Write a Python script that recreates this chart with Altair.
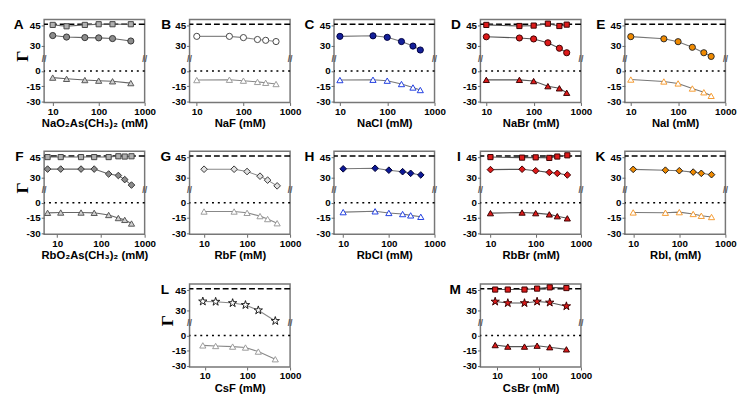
import altair as alt
import pandas as pd

STAR = ("M0,-1L0.2245,-0.309L0.951,-0.309L0.363,0.118L0.588,0.809L0,0.382"
        "L-0.588,0.809L-0.363,0.118L-0.951,-0.309L-0.2245,-0.309Z")

# ---------------- data ----------------
A_x = [10, 20, 50, 100, 200, 500]
A_top = [37.7, 36.6, 36.2, 36.0, 35.5, 33.7]
A_bot = [-6.5, -7.7, -8.9, -9.5, -10.1, -11.9]
A_sq = [45.5, 44.5, 45.5, 46.0, 46.0, 46.0]

B_x = [10, 50, 100, 200, 300, 500]
B_top = [37.1, 37.1, 36.2, 34.8, 34.2, 33.3]
B_bot = [-8.9, -8.6, -9.5, -10.7, -11.6, -12.8]

C_x = [10, 50, 100, 200, 350, 500]
C_top = [37.1, 37.5, 36.4, 33.3, 30.0, 27.1]
C_bot = [-8.9, -8.6, -9.5, -12.8, -16.2, -18.7]

D_x = [10, 50, 100, 200, 350, 500]
D_top = [36.8, 35.9, 35.2, 32.4, 28.4, 25.1]
D_bot = [-8.7, -8.7, -9.9, -14.9, -17.0, -21.4]
D_sq = [45.5, 44.7, 45.0, 46.4, 44.7, 45.7]
D_err = [1.5, 1.5, 1.5, 1.5, 1.5, 1.5]

E_x = [10, 50, 100, 200, 350, 500]
E_top = [36.9, 35.3, 33.2, 29.1, 25.1, 22.4]
E_bot = [-8.4, -10.3, -12.2, -17.2, -20.9, -24.4]

F_x = [6, 12, 35, 70, 150, 250, 350, 500]
F_top = [36.4, 36.4, 36.4, 36.4, 32.8, 31.7, 28.7, 24.7]
F_bot = [-9.9, -9.6, -9.6, -9.9, -12.0, -15.0, -16.8, -20.4]
F_sq = [45.2, 45.2, 45.2, 45.2, 45.2, 45.8, 45.6, 45.8]
F_err = [0.8, 0.8, 0.8, 0.8, 0.8, 1.5, 0.8, 0.8]

G_x = [10, 50, 100, 200, 300, 500]
G_top = [36.3, 36.3, 34.6, 31.2, 28.3, 24.1]
G_bot = [-8.6, -8.6, -9.9, -13.1, -16.0, -20.1]

H_x = [10, 50, 100, 200, 300, 500]
H_top = [36.6, 37.0, 35.6, 34.5, 33.3, 32.1]
H_bot = [-9.2, -8.4, -10.0, -11.1, -12.4, -13.8]

I_x = [10, 50, 100, 200, 300, 500]
I_top = [36.0, 36.3, 35.2, 34.0, 33.3, 32.1]
I_bot = [-10.2, -9.6, -10.2, -11.4, -13.2, -15.3]
I_sq = [45.2, 44.8, 45.0, 44.6, 45.6, 46.5]
I_err = [1.5, 1.5, 1.5, 1.5, 1.5, 1.5]

K_x = [10, 50, 100, 200, 300, 500]
K_top = [36.2, 35.6, 35.2, 34.2, 33.3, 32.3]
K_bot = [-9.5, -9.8, -9.2, -11.0, -12.8, -14.0]
K_err = [1.5, 1.5, 1.5, 1.5, 1.5, 1.5]

L_x = [9, 18, 45, 90, 180, 450]
L_top = [36.7, 36.5, 35.5, 34.1, 30.2, 22.4]
L_bot = [-9.7, -10.3, -10.9, -11.8, -15.8, -23.3]

M_x = [9, 18, 45, 90, 180, 450]
M_top = [36.6, 35.5, 35.5, 36.6, 35.9, 33.2]
M_bot = [-9.4, -10.9, -10.9, -10.0, -11.5, -13.6]
M_sq = [45.4, 45.4, 45.4, 46.1, 47.0, 46.5]
M_err = [1.5, 1.5, 1.5, 1.5, 1.5, 1.5]

X_TITLES = {
    "A": "NaO\u2082As(CH\u2083)\u2082 (mM)", "B": "NaF (mM)", "C": "NaCl (mM)",
    "D": "NaBr (mM)", "E": "NaI (mM)", "F": "RbO\u2082As(CH\u2083)\u2082 (mM)",
    "G": "RbF (mM)", "H": "RbCl (mM)", "I": "RbBr (mM)", "K": "RbI, (mM)",
    "L": "CsF (mM)", "M": "CsBr (mM)",
}
X_MIN = {"A": 6.5, "B": 7, "C": 7.5, "D": 7.5, "E": 7.5, "F": 5, "G": 4.6,
         "H": 6.3, "I": 6, "K": 6.6, "L": 4.4, "M": 4}
REF_DASH = 46.0   # dashed reference level
REF_DOT = 0.0     # dotted reference level
BREAK_AT = 12.0   # axis break position (display units)

DATA = {
    "A": (A_x, A_top, A_bot, A_sq, None),
    "B": (B_x, B_top, B_bot, None, None),
    "C": (C_x, C_top, C_bot, None, None),
    "D": (D_x, D_top, D_bot, D_sq, D_err),
    "E": (E_x, E_top, E_bot, None, None),
    "F": (F_x, F_top, F_bot, F_sq, F_err),
    "G": (G_x, G_top, G_bot, None, None),
    "H": (H_x, H_top, H_bot, None, None),
    "I": (I_x, I_top, I_bot, I_sq, I_err),
    "K": (K_x, K_top, K_bot, None, K_err),
    "L": (L_x, L_top, L_bot, None, None),
    "M": (M_x, M_top, M_bot, M_sq, M_err),
}

# style: top shape, top fill, top stroke, bottom fill, bottom stroke, square fill, square stroke, line colour
GRAY = ("#8c8c8c", "#333333", "#cfcfcf", "#555555", "#b0b0b0", "#444444", "#666666")
RED = ("#dd1a1a", "#3a0000", "#dd1a1a", "#3a0000", "#dd1a1a", "#3a0000", "#555555")
STYLE = {
    "A": ("circle",) + GRAY,
    "B": ("circle", "#ffffff", "#444444", "#ffffff", "#9a9a9a", "#fff", "#444", "#888888"),
    "C": ("circle", "#14209a", "#000040", "#ffffff", "#1f3de0", "#fff", "#444", "#777777"),
    "D": ("circle",) + RED,
    "E": ("circle", "#f08a00", "#2a2a2a", "#ffffff", "#f59a30", "#fff", "#444", "#777777"),
    "F": ("diamond",) + GRAY,
    "G": ("diamond", "#e0e0e0", "#333333", "#ffffff", "#9a9a9a", "#fff", "#444", "#888888"),
    "H": ("diamond", "#0c1896", "#000030", "#ffffff", "#1f3de0", "#fff", "#444", "#777777"),
    "I": ("diamond",) + RED,
    "K": ("diamond", "#f08a00", "#1a1a1a", "#ffffff", "#f59a30", "#fff", "#444", "#777777"),
    "L": (STAR, "#ffffff", "#1a1a1a", "#ffffff", "#9a9a9a", "#fff", "#444", "#888888"),
    "M": (STAR,) + RED,
}
SIZES = {"circle": 40, "diamond": 46, STAR: 80}

PW, PH = 103, 85
Y_DOMAIN = [-31, 50.5]


def T(f):
    # broken axis: lower segment unchanged, upper segment expanded and shifted
    return f"datum.{f} < 15 ? datum.{f} : 24.5 + (datum.{f} - 30) * 1.34"


def panel(key, gamma, letter_off):
    xs, top, bot, sq, err = DATA[key]
    shp, tf, ts, bf, bs, sf, ss, lc = STYLE[key]
    recs = []
    series = [("top", top, shp, tf, ts, SIZES[shp]), ("bot", bot, "triangle-up", bf, bs, 40)]
    if sq is not None:
        series.append(("sq", sq, "square", sf, ss, 28))
    for name, vals, shape, fill, stroke, size in series:
        for i, (x, y) in enumerate(zip(xs, vals)):
            e = err[i] if err is not None else 0.0
            recs.append(dict(x=x, y=y, lo=y - e, hi=y + e, ser=name, shape=shape,
                             fill=fill, stroke=stroke, size=size, lc=lc))
    df = pd.DataFrame(recs)

    xscale = alt.Scale(type="log", domain=[X_MIN[key], 1000], nice=False)
    yscale = alt.Scale(domain=Y_DOMAIN, nice=False, zero=False)
    xaxis = alt.Axis(values=[10, 100, 1000], format="d", title=X_TITLES[key],
                     labelFontSize=10, titleFontSize=11.5, labelPadding=1,
                     titlePadding=2, tickSize=3, labelFlush=False)
    yaxis = alt.Axis(values=[-30, -15, 0, 24.5, 44.6], labelFontSize=10, tickSize=3,
                     labelPadding=1, title=None,
                     labelExpr="datum.value > 40 ? '45' : datum.value > 20 ? '30' : "
                               "datum.value == 0 ? '0' : '-' + abs(datum.value)")

    X = alt.X("x:Q", scale=xscale, axis=xaxis)
    Y = alt.Y("d:Q", scale=yscale, axis=yaxis)

    base = alt.Chart(df).transform_calculate(d=T("y"), dlo=T("lo"), dhi=T("hi"))

    refs = alt.Chart(pd.DataFrame({"y": [REF_DASH]})).transform_calculate(
        d=T("y")).mark_rule(color="#000", strokeWidth=1.6, strokeDash=[6, 3]).encode(y=Y)
    dots = alt.Chart(pd.DataFrame({"y": [REF_DOT]})).transform_calculate(
        d=T("y")).mark_rule(color="#000", strokeWidth=1.6, strokeDash=[2, 4]).encode(y=Y)

    lines = base.mark_line(strokeWidth=1.1).encode(
        x=X, y=Y, detail="ser:N", color=alt.Color("lc:N", scale=None))
    layers = [refs, dots, lines]
    if err is not None:
        layers.append(base.mark_rule(color="#000", strokeWidth=1).encode(
            x=X, y=alt.Y("dlo:Q", scale=yscale, axis=yaxis), y2="dhi:Q"))
    pts = base.mark_point(opacity=1, fillOpacity=1, strokeWidth=1).encode(
        x=X, y=Y,
        shape=alt.Shape("shape:N", scale=None),
        fill=alt.Fill("fill:N", scale=None),
        stroke=alt.Stroke("stroke:N", scale=None),
        size=alt.Size("size:Q", scale=None),
    )
    layers.append(pts)

    brk = alt.Chart(pd.DataFrame({"x": [X_MIN[key], 1000], "y": [BREAK_AT, BREAK_AT]})).mark_text(
        text="//", fontSize=9, fontWeight="bold", color="#555").encode(
        x=alt.X("x:Q", scale=xscale, axis=xaxis), y=alt.Y("y:Q", scale=yscale, axis=yaxis))
    letter = alt.Chart(pd.DataFrame({"t": [key]})).mark_text(
        align="right", baseline="alphabetic", fontSize=14, fontWeight="bold",
        font="Liberation Sans", color="#000").encode(
        text="t:N", x=alt.value(-letter_off), y=alt.value(10))
    layers += [brk, letter]
    if gamma:
        gam = alt.Chart(pd.DataFrame({"t": ["\u0393"]})).mark_text(
            angle=270, fontSize=18, fontWeight="bold", font="Liberation Serif", color="#000",
            align="center", baseline="middle").encode(
            text="t:N", x=alt.value(-22), y=alt.value(PH * 0.44))
        layers.append(gam)
    return alt.layer(*layers).properties(width=PW, height=PH)


def blank():
    return alt.Chart(pd.DataFrame({"a": [1]})).mark_point(opacity=0).encode(
        x=alt.X("a:Q", axis=None), y=alt.Y("a:Q", axis=None)).properties(
        width=PW, height=PH, view=alt.ViewBackground(strokeOpacity=0))


charts = [
    panel("A", True, 21), panel("B", False, 19), panel("C", False, 20), panel("D", False, 20), panel("E", False, 20),
    panel("F", True, 21), panel("G", False, 19), panel("H", False, 20), panel("I", False, 20), panel("K", False, 20),
    blank(), panel("L", True, 21), blank(), panel("M", False, 20), blank(),
]

chart = alt.concat(*charts, columns=5, spacing=alt.RowColnumber(row=19, column=2)).resolve_scale(
    x="independent", y="independent").configure_axis(
    grid=False, domain=False, labelFont="Liberation Sans", labelFontWeight="bold",
    labelColor="#000", titleFont="Liberation Sans", titleFontWeight="bold",
    titleColor="#000", tickColor="#666").configure_view(stroke="#777", strokeWidth=1.5)

chart.save("out.html", embed_options={"renderer": "svg", "actions": False})
